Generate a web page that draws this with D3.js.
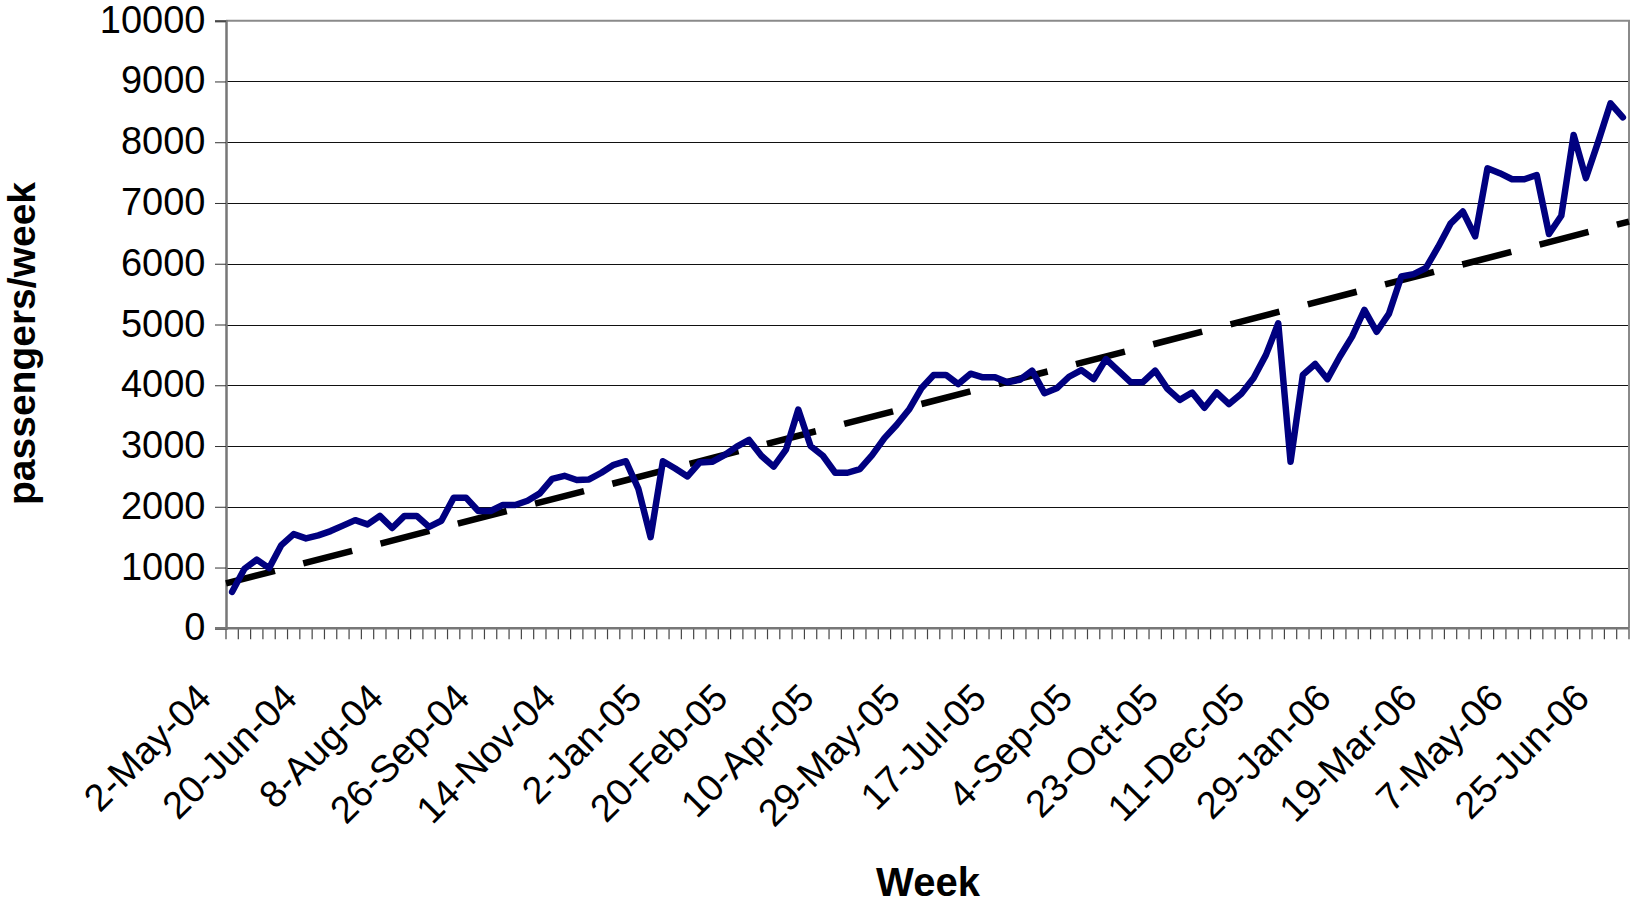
<!DOCTYPE html>
<html>
<head>
<meta charset="utf-8">
<script src="https://cdn.jsdelivr.net/npm/d3@7"></script>
<style>
  html, body { margin: 0; padding: 0; background: #fff; }
  svg { display: block; }
  text { font-family: "Liberation Sans", Arial, sans-serif; fill: #000; }
</style>
</head>
<body>
<svg id="chart" width="1632" height="904"></svg>
<script>
// ---- data ----
const startWeek = "2004-05-02";
const passengers = [
  600, 980, 1130, 990, 1370, 1550, 1480, 1530, 1600, 1690,
  1780, 1710, 1850, 1650, 1850, 1850, 1670, 1770, 2150, 2150,
  1930, 1930, 2030, 2030, 2100, 2220, 2460, 2510, 2440, 2450,
  2560, 2690, 2750, 2300, 1500, 2750, 2630, 2500, 2730, 2740,
  2850, 2990, 3100, 2840, 2660, 2940, 3600, 3000, 2840, 2560,
  2560, 2620, 2850, 3130, 3350, 3600, 3950, 4170, 4170, 4020,
  4190, 4130, 4130, 4050, 4090, 4240, 3870, 3950, 4140, 4250,
  4100, 4430, 4240, 4050, 4050, 4240, 3940, 3760, 3880, 3630,
  3880, 3690, 3860, 4120, 4500, 5020, 2740, 4170, 4350, 4100,
  4470, 4800, 5240, 4880, 5180, 5790, 5830, 5930, 6280, 6660,
  6860, 6450, 7570, 7490, 7390, 7390, 7460, 6490, 6790, 8120,
  7410, 8010, 8640, 8410
];
const tickLabels = [
  "2-May-04", "20-Jun-04", "8-Aug-04", "26-Sep-04", "14-Nov-04", "2-Jan-05",
  "20-Feb-05", "10-Apr-05", "29-May-05", "17-Jul-05", "4-Sep-05", "23-Oct-05",
  "11-Dec-05", "29-Jan-06", "19-Mar-06", "7-May-06", "25-Jun-06"
];
const yTicks = [0, 1000, 2000, 3000, 4000, 5000, 6000, 7000, 8000, 9000, 10000];
const labelEvery = 7;

// ---- categories (one per week) ----
const fmt = d3.timeFormat("%-d-%b-%y");
const start = d3.timeParse("%Y-%m-%d")(startWeek);
const categories = passengers.map((_, i) => fmt(d3.timeWeek.offset(start, i)));

// ---- layout ----
const L = 226, R = 1629, T = 20.7, B = 628.3;
const svg = d3.select("#chart");

const x = d3.scaleBand().domain(categories).range([L, R]).paddingInner(0).paddingOuter(0);
const cx = c => x(c) + x.bandwidth() / 2;
const y = d3.scaleLinear().domain([0, 10000]).range([B, T]);

// gridlines
svg.append("g").selectAll("line")
  .data(yTicks.filter(v => v > 0 && v < 10000))
  .join("line")
  .attr("x1", L).attr("x2", R)
  .attr("y1", d => Math.round(y(d)) + 0.5).attr("y2", d => Math.round(y(d)) + 0.5)
  .attr("stroke", "#111").attr("stroke-width", 1);

// plot border top & right
svg.append("path")
  .attr("d", `M${L},${T}H${R}V${B}`)
  .attr("fill", "none").attr("stroke", "#8a8a8a").attr("stroke-width", 2);

// y axis
const yAxis = d3.axisLeft(y).tickValues(yTicks).tickSize(11).tickPadding(9).tickFormat(d3.format("d"));
const gy = svg.append("g").attr("transform", `translate(${L},0)`).call(yAxis);
gy.select(".domain").attr("stroke", "#777").attr("stroke-width", 2.5);
gy.selectAll(".tick line").attr("stroke", "#333").attr("stroke-width", 1);
gy.selectAll(".tick text")
  .attr("font-size", 38).attr("font-family", "Liberation Sans, Arial, sans-serif")
  .attr("fill", "#000").attr("dy", null).attr("y", 11.5)
  .attr("x", -20.5).attr("text-anchor", "end");

// x axis: ticks at category boundaries
const boundaries = d3.range(categories.length + 1).map(i => L + i * x.bandwidth());
svg.append("g").selectAll("line")
  .data(boundaries)
  .join("line")
  .attr("x1", d => d).attr("x2", d => d)
  .attr("y1", B).attr("y2", B + 11)
  .attr("stroke", "#444").attr("stroke-width", 1.2);
svg.append("line")
  .attr("x1", L - 11).attr("x2", R)
  .attr("y1", B).attr("y2", B)
  .attr("stroke", "#777").attr("stroke-width", 2.5);

// x tick labels (every 7th week)
const labelled = categories.filter((_, i) => i % labelEvery === 0);
svg.append("g").selectAll("text")
  .data(labelled)
  .join("text")
  .attr("text-anchor", "end")
  .attr("font-size", 38)
  .attr("transform", (d) => `translate(${cx(d) - 19},700) rotate(-45)`)
  .text((d, i) => tickLabels[i]);

// trend line (least squares fit of the series)
const n = passengers.length;
const xs = d3.range(n);
const mx = d3.mean(xs), my = d3.mean(passengers);
const slope = d3.sum(xs, i => (i - mx) * (passengers[i] - my)) / d3.sum(xs, i => (i - mx) ** 2);
const icpt = my - slope * mx;
const xi = d3.scaleLinear().domain([-0.5, n - 0.5]).range([L, R]);
const trend = [-0.5, n - 0.5].map(i => [xi(i), y(icpt + slope * i)]);
svg.append("path")
  .attr("d", d3.line()(trend))
  .attr("fill", "none").attr("stroke", "#000").attr("stroke-width", 6.5)
  .attr("stroke-dasharray", "50.5,29.3").attr("stroke-linecap", "butt");

// data line
svg.append("path")
  .datum(passengers)
  .attr("d", d3.line().x((d, i) => cx(categories[i])).y(d => y(d)))
  .attr("fill", "none").attr("stroke", "#000080").attr("stroke-width", 6.5)
  .attr("stroke-linejoin", "round").attr("stroke-linecap", "round");

// axis titles
svg.append("text")
  .attr("x", 928).attr("y", 896)
  .attr("text-anchor", "middle").attr("font-weight", "bold").attr("font-size", 40)
  .text("Week");
svg.append("text")
  .attr("transform", "translate(35,343.5) rotate(-90)")
  .attr("text-anchor", "middle").attr("font-weight", "bold").attr("font-size", 39)
  .text("passengers/week");
</script>
</body>
</html>
